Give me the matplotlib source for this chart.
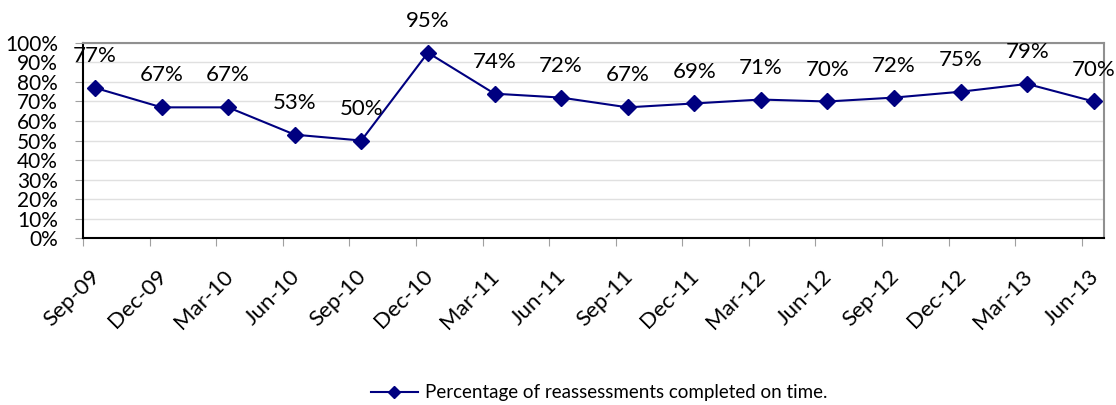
import matplotlib
matplotlib.use("Agg")
import matplotlib.pyplot as plt
import numpy as np

quarters = ["Sep-09", "Dec-09", "Mar-10", "Jun-10", "Sep-10", "Dec-10", "Mar-11", "Jun-11",
            "Sep-11", "Dec-11", "Mar-12", "Jun-12", "Sep-12", "Dec-12", "Mar-13", "Jun-13"]
pct_on_time = [77, 67, 67, 53, 50, 95, 74, 72, 67, 69, 71, 70, 72, 75, 79, 70]
y_ticks = list(range(0, 101, 10))
series_name = "Percentage of reassessments completed on time."

plt.rcParams['font.family'] = ['Lato', 'DejaVu Sans']
navy = '#000080'

fig = plt.figure(figsize=(11.16, 4.05), dpi=100)
ax = fig.add_axes([0.0744, 0.412, 0.9146, 0.482])

# points sit a little to the right of the month ticks (date axis look)
ticks = np.arange(len(quarters))
xs = ticks + 0.18

ax.plot(xs, pct_on_time, color=navy, lw=1.5, marker='D', ms=8,
        markerfacecolor=navy, markeredgecolor=navy, label=series_name)

for x, v in zip(xs, pct_on_time):
    ax.annotate(f"{v}%", (x, v), xytext=(0, 23), textcoords='offset points',
                ha='center', va='center', fontsize=16, color='black')

ax.set_xlim(0, 15.33)
ax.set_ylim(0, 100)
ax.set_yticks(y_ticks)
ax.set_yticklabels([f"{t}%" for t in y_ticks], fontsize=15)

# major ticks = tick marks only, minor ticks carry the rotated labels
ax.set_xticks(ticks)
ax.set_xticklabels([])
ax.set_xticks(ticks + 0.1, minor=True)
ax.set_xticklabels(quarters, minor=True, rotation=45, ha='right',
                   rotation_mode='anchor', fontsize=16)

ax.grid(axis='y', color='#e0e0e0', lw=1)
ax.set_axisbelow(True)
ax.tick_params(axis='y', length=6, color='#a0a0a0', pad=12)
ax.tick_params(axis='x', which='major', length=6, color='#a0a0a0')
ax.tick_params(axis='x', which='minor', length=0, pad=20)

ax.spines['left'].set_color('black')
ax.spines['bottom'].set_color('black')
ax.spines['left'].set_linewidth(1.5)
ax.spines['bottom'].set_linewidth(1.5)
ax.spines['top'].set_color('#909090')
ax.spines['right'].set_color('#909090')
ax.spines['top'].set_linewidth(1.5)
ax.spines['right'].set_linewidth(1.5)

fig.legend(loc='center', bbox_to_anchor=(0.537, 0.03), frameon=False, fontsize=13.5,
           handlelength=2.5, handletextpad=0.4, markerscale=0.75)

fig.savefig('out.png', dpi=100, facecolor='white')
